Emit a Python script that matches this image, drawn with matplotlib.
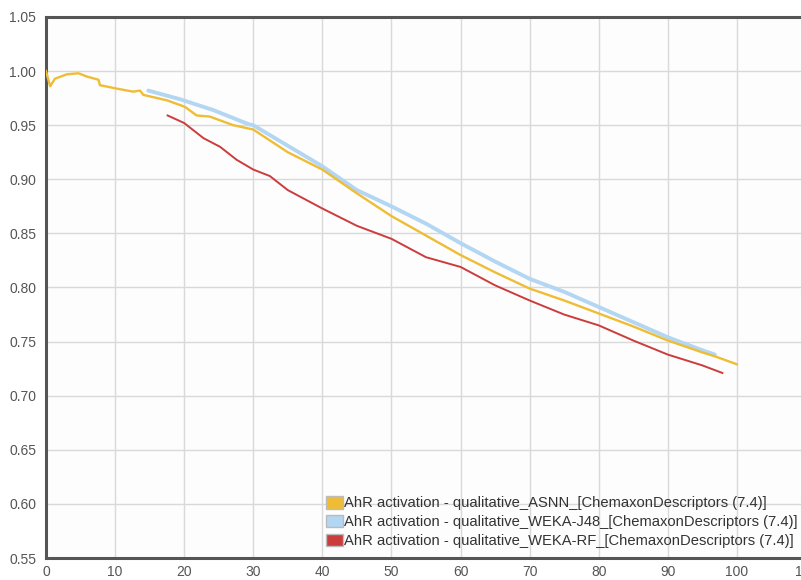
import matplotlib
matplotlib.use("Agg")
import matplotlib.pyplot as plt
from matplotlib.patches import Patch

plt.rcParams['font.family'] = ['Liberation Sans', 'DejaVu Sans']

labels = [
    "AhR activation - qualitative_ASNN_[ChemaxonDescriptors (7.4)]",
    "AhR activation - qualitative_WEKA-J48_[ChemaxonDescriptors (7.4)]",
    "AhR activation - qualitative_WEKA-RF_[ChemaxonDescriptors (7.4)]",
]
colors = ["#efbd35", "#b3d6f3", "#cc3c3c"]

asnn_x = [0, 0.6, 1.3, 3, 4.7, 5.9, 7.6, 7.8, 10.1, 12.6, 13.6, 14.1, 17.5, 20.1,
          21.8, 23.7, 27.1, 30, 35, 40, 45, 50, 55, 60, 65, 70, 75, 80, 85, 90, 95, 97, 100]
asnn_y = [1.000, 0.986, 0.993, 0.997, 0.998, 0.995, 0.992, 0.987, 0.984, 0.981, 0.982,
          0.978, 0.973, 0.967, 0.959, 0.958, 0.950, 0.946, 0.925, 0.909, 0.887, 0.866,
          0.848, 0.830, 0.814, 0.799, 0.788, 0.776, 0.764, 0.751, 0.740, 0.736, 0.729]

j48_x = [14.8, 19.4, 24.2, 29.3, 30, 35, 40, 45, 50, 55, 60, 65, 70, 75, 80, 85, 90, 95, 96.8]
j48_y = [0.982, 0.974, 0.964, 0.951, 0.950, 0.931, 0.912, 0.890, 0.875, 0.859, 0.841,
         0.824, 0.808, 0.796, 0.782, 0.768, 0.754, 0.742, 0.738]

rf_x = [17.6, 20, 22.8, 25.2, 27.6, 30, 32.4, 35, 40, 45, 50, 55, 60, 65, 70, 75, 80,
        85, 90, 95, 97.9]
rf_y = [0.959, 0.952, 0.938, 0.930, 0.918, 0.909, 0.903, 0.890, 0.873, 0.857, 0.845,
        0.828, 0.819, 0.802, 0.788, 0.775, 0.765, 0.751, 0.738, 0.728, 0.721]

x_ticks = [0, 10, 20, 30, 40, 50, 60, 70, 80, 90, 100, 110]
y_ticks = [0.55, 0.60, 0.65, 0.70, 0.75, 0.80, 0.85, 0.90, 0.95, 1.00, 1.05]

W, H = 801, 580
fig = plt.figure(figsize=(W / 100, H / 100), dpi=100)
left_px, right_px, top_px, bot_px = 46, 806, 17, 558
ax = fig.add_axes([left_px / W, 1 - bot_px / H, (right_px - left_px) / W, (bot_px - top_px) / H])
ax.set_facecolor("#fdfdfd")

ax.plot(j48_x, j48_y, color=colors[1], lw=2.8, solid_capstyle='round', zorder=3)
ax.plot(asnn_x, asnn_y, color=colors[0], lw=1.7, zorder=4)
ax.plot(rf_x, rf_y, color=colors[2], lw=1.4, zorder=5)

ax.set_xlim(0, 110)
ax.set_ylim(0.55, 1.05)
ax.set_xticks(x_ticks)
ax.set_yticks(y_ticks)
ax.set_xticklabels([str(v) for v in x_ticks])
ax.set_yticklabels([f"{v:.2f}" for v in y_ticks])
ax.tick_params(length=0, labelsize=10, colors="#555555")
ax.tick_params(axis='y', pad=7)
ax.tick_params(axis='x', pad=5)
ax.grid(True, color="#d9d9d9", lw=1)
ax.set_axisbelow(True)
for s in ["left", "top", "bottom"]:
    ax.spines[s].set_color("#555555")
    ax.spines[s].set_linewidth(2.2)
ax.spines["right"].set_visible(False)

handles = [Patch(facecolor=c, edgecolor="#bbbbbb", lw=1) for c in colors]
leg = ax.legend(handles, labels, loc="upper left",
                bbox_to_anchor=(316 / W, 1 - 486 / H), bbox_transform=fig.transFigure,
                frameon=False, fontsize=10.6, handlelength=1.1, handleheight=0.9,
                handletextpad=0.1, labelspacing=0.32, borderpad=0.2)
for t in leg.get_texts():
    t.set_color("#333333")

fig.savefig("out.png", dpi=100, facecolor="white")
